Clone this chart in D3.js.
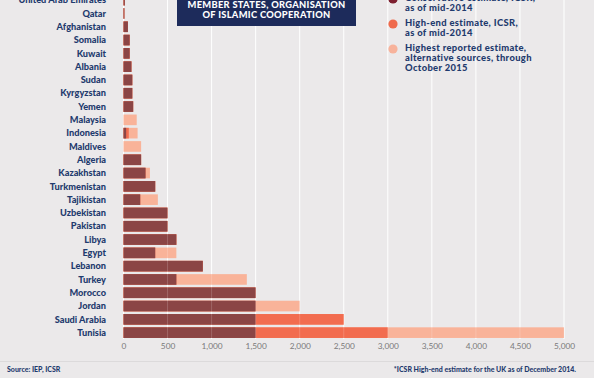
<!DOCTYPE html>
<html><head><meta charset="utf-8">
<script src="https://cdn.jsdelivr.net/npm/d3@7"></script>
<style>body{margin:0;background:#fff;}svg{display:block;}</style>
</head><body><svg id="c" width="599" height="390"></svg>
<script>
const countries = ["United Arab Emirates","Qatar","Afghanistan","Somalia","Kuwait","Albania","Sudan","Kyrgyzstan","Yemen","Malaysia","Indonesia","Maldives","Algeria","Kazakhstan","Turkmenistan","Tajikistan","Uzbekistan","Pakistan","Libya","Egypt","Lebanon","Turkey","Morocco","Jordan","Saudi Arabia","Tunisia"];
const conservative = [15,10,50,70,70,90,100,100,110,0,30,0,200,250,360,190,500,500,600,360,900,600,1500,1500,1500,1500];
const highEnd = [15,10,50,70,70,90,100,100,110,0,60,0,200,250,360,190,500,500,600,360,900,600,1500,1500,2500,3000];
const highestReported = [15,10,50,70,70,90,100,100,110,150,160,200,200,300,360,390,500,500,600,600,900,1400,1500,2000,2500,5000];
const ticks = [0,500,1000,1500,2000,2500,3000,3500,4000,4500,5000];
const titleLines = ["MEMBER STATES, ORGANISATION","OF ISLAMIC COOPERATION"];
const legendItems = [["Conservative estimate, ICSR,","as of mid-2014"],["High-end estimate, ICSR,","as of mid-2014"],["Highest reported estimate,","alternative sources, through","October 2015"]];
const colors = {dark:"#8b4545", mid:"#f26c4f", light:"#f9b399"};
const legendColors = ["#7d2030", "#ef6a4c", "#f7b29b"];
const navy = "#1f3b6e";

const svg = d3.select("#c");
svg.append("rect").attr("x",0).attr("y",0).attr("width",594).attr("height",378).attr("fill","#ebe9ea");

const x = d3.scaleLinear().domain([0,5000]).range([123.5,564]);
const y = d3.scaleBand().domain(countries).range([-6.5,339.3]).paddingInner(0.2).paddingOuter(0.1);

svg.append("g").selectAll("line").data(ticks).join("line")
  .attr("x1",d=>x(d)).attr("x2",d=>x(d)).attr("y1",0).attr("y2",339)
  .attr("stroke","#fff").attr("stroke-width",1);

const rows = countries.map((c,i)=>({c, cons:conservative[i], high:highEnd[i], rep:highestReported[i]}));
const g = svg.append("g");
g.selectAll("rect.l").data(rows).join("rect").attr("class","l")
  .attr("x",x(0)).attr("y",d=>y(d.c)).attr("height",y.bandwidth())
  .attr("width",d=>x(d.rep)-x(0)).attr("fill",colors.light);
g.selectAll("rect.m").data(rows).join("rect").attr("class","m")
  .attr("x",x(0)).attr("y",d=>y(d.c)).attr("height",y.bandwidth())
  .attr("width",d=>x(d.high)-x(0)).attr("fill",colors.mid);
g.selectAll("rect.d").data(rows).join("rect").attr("class","d")
  .attr("x",x(0)).attr("y",d=>y(d.c)).attr("height",y.bandwidth())
  .attr("width",d=>x(d.cons)-x(0)).attr("fill",colors.dark);

svg.append("g").selectAll("line").data(ticks.slice(1)).join("line")
  .attr("x1",d=>x(d)).attr("x2",d=>x(d)).attr("y1",0).attr("y2",339)
  .attr("stroke","#fff").attr("stroke-opacity",0.18).attr("stroke-width",1);

svg.append("g").selectAll("text").data(countries).join("text")
  .attr("x",106).attr("y",d=>y(d)+y.bandwidth()/2).attr("dy","0.35em")
  .attr("text-anchor","end").attr("font-family","Lato, sans-serif").attr("font-weight","900")
  .attr("font-size","9.2px").attr("fill",navy).text(d=>d);

const ax = svg.append("g").attr("transform","translate(0,340)")
  .call(d3.axisBottom(x).tickValues(ticks).tickFormat(d3.format(",")).tickSize(0).tickPadding(3));
ax.select(".domain").remove();
ax.selectAll("text").attr("font-family","Lato, sans-serif").attr("font-size","8.3px").attr("fill","#7a7a7a");

svg.append("rect").attr("x",177).attr("y",-4).attr("width",179).attr("height",30).attr("fill","#1d2b5b");
svg.append("g").selectAll("text").data(titleLines).join("text")
  .attr("x",266.5).attr("y",(d,i)=>7.5+i*10.5).attr("text-anchor","middle")
  .attr("font-family","Lato, sans-serif").attr("font-weight","900").attr("font-size","9.3px")
  .attr("letter-spacing","0.3px").attr("fill","#fff").text(d=>d);

const legY = [-2,23,48];
legendItems.forEach((lines,i)=>{
  svg.append("circle").attr("cx",393).attr("cy",legY[i]+1).attr("r",4.6).attr("fill",legendColors[i]);
  lines.forEach((t,j)=>{
    svg.append("text").attr("x",405).attr("y",legY[i]+j*10).attr("dy","0.35em")
      .attr("font-family","Lato, sans-serif").attr("font-weight","900").attr("font-size","9.4px")
      .attr("letter-spacing","0.35px").attr("fill",navy).text(t);
  });
});

svg.append("line").attr("x1",0).attr("x2",594).attr("y1",361.5).attr("y2",361.5).attr("stroke","#dcdadb");
svg.append("text").attr("x",7).attr("y",370).attr("dy","0.35em").attr("font-family","Lato, sans-serif")
  .attr("font-weight","900").attr("font-size","7px").attr("fill",navy).text("Source: IEP, ICSR");
svg.append("text").attr("x",576).attr("y",370).attr("dy","0.35em").attr("text-anchor","end").attr("font-family","Lato, sans-serif")
  .attr("font-weight","900").attr("font-size","7px").attr("fill",navy).text("*ICSR High-end estimate for the UK as of December 2014.");
</script></body></html>
